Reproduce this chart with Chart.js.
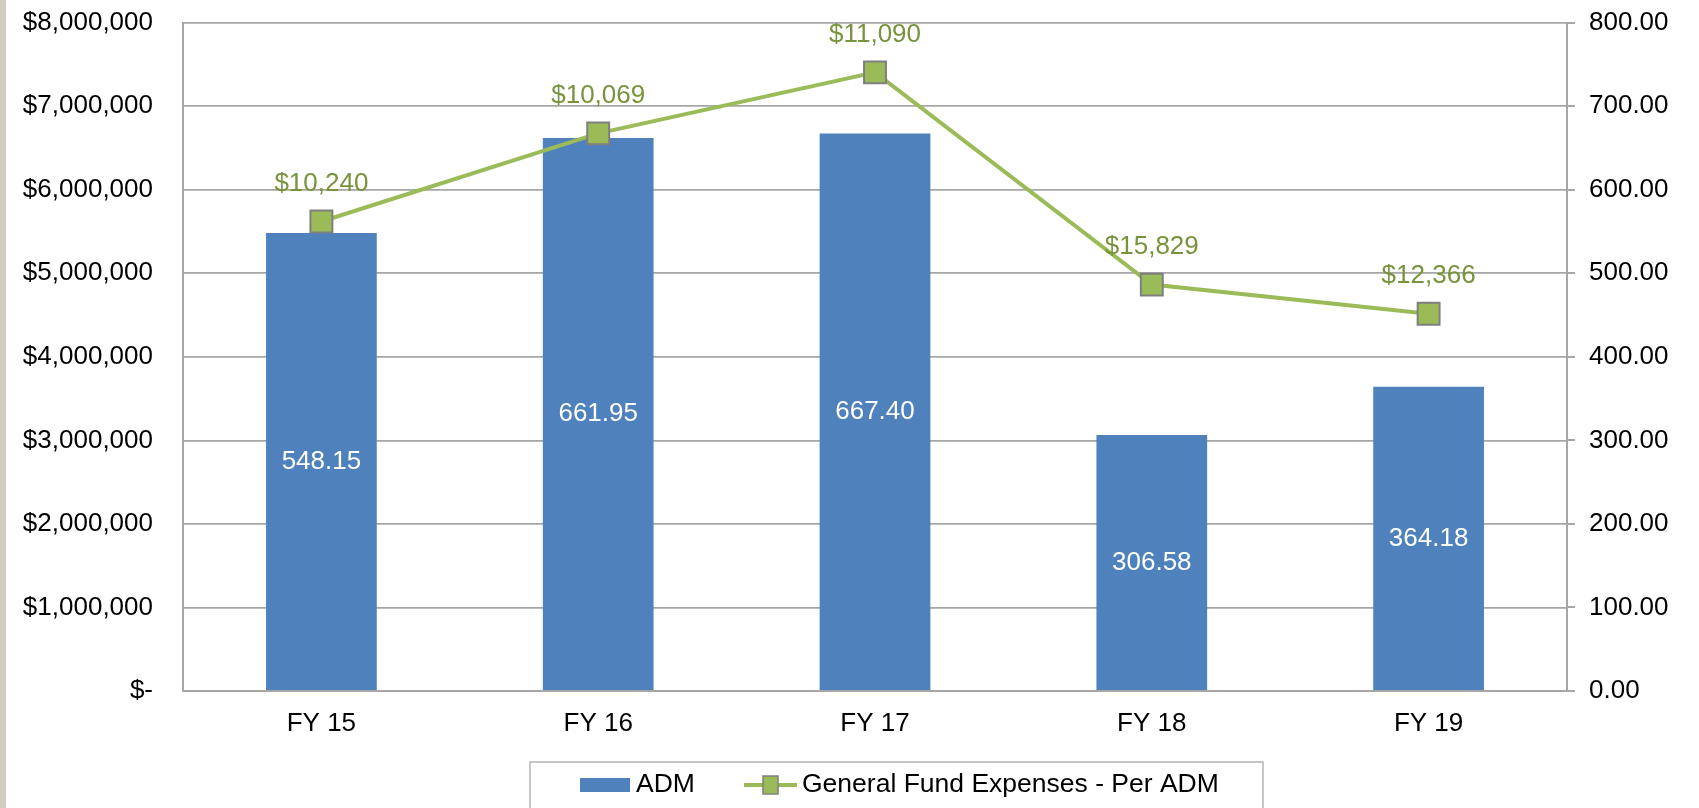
<!DOCTYPE html>
<html>
<head>
<meta charset="utf-8">
<script src="https://cdn.jsdelivr.net/npm/chart.js@4"></script>
<style>
    html, body { margin: 0; padding: 0; background: #fff; overflow: hidden; }
    #wrap { width: 1699px; height: 808px; position: relative; }
</style>
</head>
<body>
<div id="wrap"><canvas id="admChart"></canvas></div>
<script>
// data
const categories = ['FY 15', 'FY 16', 'FY 17', 'FY 18', 'FY 19'];
const admValues = [548.15, 661.95, 667.40, 306.58, 364.18];
const expenseTotals = [5620000, 6675000, 7405000, 4865000, 4515000];
const perAdmLabels = ['$10,240', '$10,069', '$11,090', '$15,829', '$12,366'];
const leftTicks = [0, 1000000, 2000000, 3000000, 4000000, 5000000, 6000000, 7000000, 8000000];
const rightTicks = [0, 100, 200, 300, 400, 500, 600, 700, 800];

const FONT = '"Liberation Sans", Arial, sans-serif';
const barBlue = '#4f81bd';
const lineGreen = '#9bbb59';
const labelGreen = '#77933c';
const axisGray = '#a6a6a6';

// background, data labels and the boxed legend
const extrasPlugin = {
    id: 'extras',
    beforeDraw(chart) {
        const ctx = chart.ctx;
        ctx.save();
        ctx.fillStyle = '#fff';
        ctx.fillRect(0, 0, chart.width, chart.height);
        ctx.fillStyle = '#cfcdc2';
        ctx.fillRect(0, 0, 6, chart.height);
        ctx.restore();
    },
    afterDatasetsDraw(chart) {
        const ctx = chart.ctx;
        ctx.save();
        ctx.font = '26px ' + FONT;
        ctx.textAlign = 'center';
        ctx.textBaseline = 'middle';
        chart.getDatasetMeta(0).data.forEach((bar, i) => {
            ctx.fillStyle = '#fff';
            ctx.fillText(admValues[i].toFixed(2), bar.x, (bar.y + bar.base) / 2);
        });
        chart.getDatasetMeta(1).data.forEach((pt, i) => {
            ctx.fillStyle = labelGreen;
            ctx.fillText(perAdmLabels[i], pt.x, pt.y - 38);
        });
        ctx.restore();
    },
    afterDraw(chart) {
        const ctx = chart.ctx;
        ctx.save();
        // legend box
        ctx.strokeStyle = '#b4b4b4';
        ctx.lineWidth = 1.5;
        ctx.strokeRect(530, 762, 733, 80);
        const cy = 785;
        // ADM swatch
        ctx.fillStyle = barBlue;
        ctx.fillRect(580, cy - 7, 50, 14);
        ctx.fillStyle = '#000';
        ctx.font = '26.5px ' + FONT;
        ctx.textBaseline = 'middle';
        ctx.textAlign = 'left';
        ctx.fillText('ADM', 636, cy);
        // line swatch
        ctx.strokeStyle = lineGreen;
        ctx.lineWidth = 4;
        ctx.beginPath();
        ctx.moveTo(744, cy);
        ctx.lineTo(797, cy);
        ctx.stroke();
        ctx.fillStyle = lineGreen;
        ctx.fillRect(763, cy - 9, 15, 18);
        ctx.strokeStyle = '#7f7f7f';
        ctx.lineWidth = 1.5;
        ctx.strokeRect(763, cy - 9, 15, 18);
        ctx.fillStyle = '#000';
        ctx.fillText('General Fund Expenses - Per ADM', 802, cy, 420);
        ctx.restore();
    }
};

function dollarTick(v) {
    if (v === 0) return '$-';
    return '$' + v.toLocaleString('en-US');
}

// pin the plot area: no automatic room for the end tick labels
function pinY(width) {
    return function (s) {
        s.width = width;
        s.paddingTop = 0;
        s.paddingBottom = 0;
    };
}

const ctx = document.getElementById('admChart').getContext('2d');
new Chart(ctx, {
    data: {
        labels: categories,
        datasets: [
            {
                type: 'bar',
                label: 'ADM',
                data: admValues,
                yAxisID: 'yRight',
                backgroundColor: barBlue,
                borderWidth: 0,
                categoryPercentage: 1,
                barPercentage: 0.4,
                order: 1
            },
            {
                type: 'line',
                label: 'General Fund Expenses - Per ADM',
                data: expenseTotals,
                yAxisID: 'yLeft',
                borderColor: lineGreen,
                borderWidth: 4,
                backgroundColor: lineGreen,
                pointStyle: 'rect',
                pointRadius: 15.5,
                pointBorderColor: '#7f7f7f',
                pointBorderWidth: 2,
                pointBackgroundColor: lineGreen,
                tension: 0,
                order: 0
            }
        ]
    },
    options: {
        responsive: true,
        maintainAspectRatio: false,
        animation: false,
        devicePixelRatio: 1,
        layout: { padding: { top: 22.7, right: 0, bottom: 0, left: 0 } },
        plugins: {
            legend: { display: false },
            tooltip: { enabled: false }
        },
        scales: {
            x: {
                grid: { drawOnChartArea: false, drawTicks: false },
                border: { color: axisGray, width: 2 },
                ticks: { color: '#000', font: { family: FONT, size: 26 }, padding: 17 },
                afterFit(s) { s.height = 117; }
            },
            yLeft: {
                position: 'left',
                min: 0,
                max: 8000000,
                afterBuildTicks(s) { s.ticks = leftTicks.map(v => ({ value: v })); },
                ticks: { color: '#000', font: { family: FONT, size: 26 }, padding: 30, callback: dollarTick },
                grid: { color: axisGray, lineWidth: 1.7, drawTicks: false },
                border: { color: axisGray, width: 2 },
                afterFit: pinY(183)
            },
            yRight: {
                position: 'right',
                min: 0,
                max: 800,
                afterBuildTicks(s) { s.ticks = rightTicks.map(v => ({ value: v })); },
                ticks: { color: '#000', font: { family: FONT, size: 26 }, padding: 14, callback: v => v.toFixed(2) },
                grid: { drawOnChartArea: false, tickLength: 8, color: axisGray, lineWidth: 2 },
                border: { color: axisGray, width: 2 },
                afterFit: pinY(132)
            }
        }
    },
    plugins: [extrasPlugin]
});
</script>
</body>
</html>
